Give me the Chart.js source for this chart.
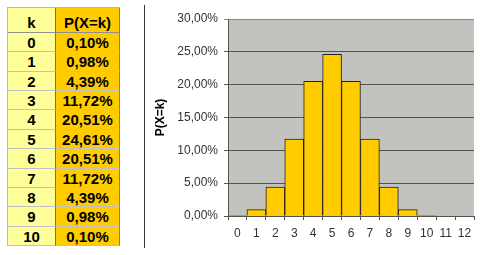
<!DOCTYPE html>
<html>
<head>
<meta charset="utf-8">
<script src="https://cdn.jsdelivr.net/npm/chart.js@4.4.0/dist/chart.umd.min.js"></script>
<style>
  html, body { margin: 0; padding: 0; background: #fff; width: 480px; height: 255px; overflow: hidden; }
  #tbl { position: absolute; left: 7px; top: 7px; border-left: 1px solid #b8b8b8; border-top: 1px solid #b8b8b8;
         font-family: Arial, "Liberation Sans", sans-serif; font-weight: bold; font-size: 15px; color: #000; }
  #tbl .row { display: flex; }
  #tbl .c { box-sizing: border-box; border-right: 1px solid #c0c0c0; border-bottom: 1px solid #c0c0c0;
            text-align: center; height: 19.36px; line-height: 19px; }
  #tbl .k { width: 48px; background: #ffff99; border-right-color: #707070; }
  #tbl .p { width: 64px; background: #ffcc00; border-right-color: #808080; }
  #tbl .hd .c { height: 25px; line-height: 29px; border-bottom-color: #909090; }
  #sep { position: absolute; left: 144px; top: 5px; width: 1px; height: 243px; background: #3a3a30; }
  #chartbox { position: absolute; left: 145px; top: 0; width: 335px; height: 255px; }
</style>
</head>
<body>
<div id="tbl"></div>
<div id="sep"></div>
<div id="chartbox"><canvas id="chart"></canvas></div>
<script>
// binomial table n=10, p=0.5 - values as shown in the sheet
const kLabels = ['0', '1', '2', '3', '4', '5', '6', '7', '8', '9', '10', '11', '12'];
const tableK = ['0', '1', '2', '3', '4', '5', '6', '7', '8', '9', '10'];
const probs = [0.10, 0.98, 4.39, 11.72, 20.51, 24.61, 20.51, 11.72, 4.39, 0.98, 0.10, null, null];
const yTicks = [0, 5, 10, 15, 20, 25, 30];

function pct(v) { return v.toFixed(2).replace('.', ',') + '%'; }

// table
const tbl = document.getElementById('tbl');
let html = '<div class="row hd"><div class="c k">k</div><div class="c p">P(X=k)</div></div>';
tableK.forEach((k, i) => {
  html += '<div class="row"><div class="c k">' + k + '</div><div class="c p">' + pct(probs[i]) + '</div></div>';
});
tbl.innerHTML = html;

const plotBg = {
  id: 'plotBg',
  beforeDraw(chart) {
    const a = chart.chartArea, ctx = chart.ctx;
    ctx.save();
    ctx.fillStyle = '#c2c2be';
    ctx.fillRect(a.left, a.top, a.right - a.left, a.bottom - a.top);
    ctx.restore();
  }
};

const font = { family: 'Arial, "Liberation Sans", sans-serif', size: 12 };

new Chart(document.getElementById('chart'), {
  type: 'bar',
  data: {
    labels: kLabels,
    datasets: [{
      data: probs,
      backgroundColor: '#ffcc00',
      borderColor: '#222',
      borderWidth: 1,
      categoryPercentage: 1,
      barPercentage: 1
    }]
  },
  options: {
    responsive: true, maintainAspectRatio: false, animation: false,
    layout: { padding: { left: 0, right: 6, top: 19, bottom: 0 } },
    plugins: { legend: { display: false }, tooltip: { enabled: false } },
    scales: {
      x: {
        offset: true,
        grid: { drawOnChartArea: false, drawTicks: true, tickLength: 4, color: '#55534a', offset: true },
        border: { color: '#55534a' },
        ticks: { color: '#333', font: font, padding: 6, autoSkip: false, maxRotation: 0 },
        afterFit(s) { s.height = 39; }
      },
      y: {
        min: 0, max: 30,
        afterBuildTicks(s) { s.ticks = yTicks.map(v => ({ value: v })); },
        grid: { color: ctx => ctx.tick && ctx.tick.value === 30 ? '#8a8a84' : '#55534a', tickLength: 4 },
        border: { color: '#55534a' },
        ticks: { color: '#333', font: font, padding: 6, callback: v => pct(v) },
        title: { display: true, text: 'P(X=k)', color: '#000', font: { family: font.family, size: 12, weight: 'bold' }, padding: { top: 8, bottom: 0 } },
        afterFit(s) { s.width = 83; }
      }
    }
  },
  plugins: [plotBg]
});
</script>
</body>
</html>
